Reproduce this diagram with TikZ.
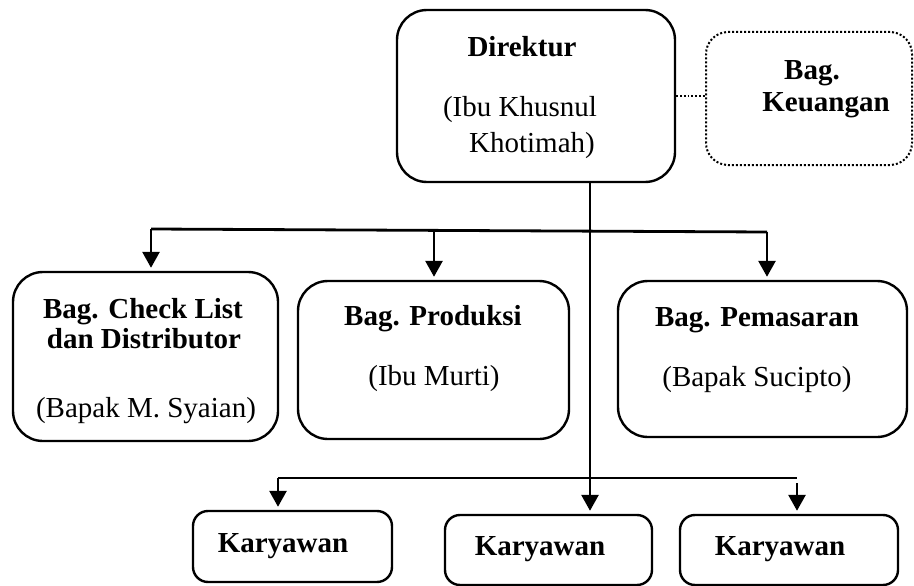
\documentclass[tikz,border=0pt]{standalone}
\usepackage{fontspec}
\setmainfont{Liberation Serif}
\usetikzlibrary{arrows.meta}
\begin{document}
\begin{tikzpicture}[x=1pt,y=-1pt,
  box/.style={draw,line width=2.4pt,rounded corners=30pt,inner sep=0pt},
  smallbox/.style={draw,line width=2.4pt,rounded corners=15pt,inner sep=0pt},
  dotbox/.style={draw,line width=2pt,dotted,rounded corners=22pt,inner sep=0pt},
  txt/.style={anchor=base,inner sep=0pt,font=\fontsize{29}{30}\selectfont},
  btxt/.style={txt,font=\fontsize{29}{30}\selectfont\bfseries},
  conn/.style={line width=2.8pt},
  arr/.style={line width=2.8pt,-{Triangle[width=17pt,length=16pt]},shorten >=3pt}]
\useasboundingbox (0,0) rectangle (914,586);
% boxes
\node[box,minimum width=278pt,minimum height=172pt] (dir) at (536,96) {};
\node[dotbox,minimum width=206pt,minimum height=133pt] (keu) at (809,98.5) {};
\node[box,minimum width=265pt,minimum height=169pt] (cl) at (145.5,356.5) {};
\node[box,minimum width=271pt,minimum height=158pt] (prod) at (433.5,360) {};
\node[box,minimum width=289pt,minimum height=156pt] (pem) at (762.5,359) {};
\node[smallbox,minimum width=199pt,minimum height=71pt] (k1) at (292.5,546.5) {};
\node[smallbox,minimum width=207pt,minimum height=70pt] (k2) at (548.5,550) {};
\node[smallbox,minimum width=218pt,minimum height=70pt] (k3) at (789,550) {};
% texts
\node[btxt] (t1) at (522,57) {Direktur};
\node[txt] (t2) at (520,117) {(Ibu Khusnul};
\node[txt] (t3) at (532,152) {Khotimah)};
\node[btxt] (t4) at (812,80) {Bag.};
\node[btxt] (t5) at (826,112) {Keuangan};
\node[btxt] (t6) at (143,318) {Bag. Check List};
\node[btxt] (t7) at (144,348) {dan Distributor};
\node[txt] (t8) at (146,417) {(Bapak M. Syaian)};
\node[btxt] (t9) at (433,325) {Bag. Produksi};
\node[txt] (t10) at (434,385) {(Ibu Murti)};
\node[btxt] (t11) at (757,326) {Bag. Pemasaran};
\node[txt] (t12) at (757,386) {(Bapak Sucipto)};
\node[btxt] (t13) at (283,552) {Karyawan};
\node[btxt] (t14) at (540,555) {Karyawan};
\node[btxt] (t15) at (780,555) {Karyawan};
% connectors
\draw[line width=1.8pt,dotted] (dir.east) -- (dir.east -| keu.west);
\coordinate (spine) at (590,182);
\coordinate (ua) at (151,229);
\coordinate (ub) at (434,230);
\coordinate (uc) at (767,232);
\coordinate (la) at (278,478);
\coordinate (lc) at (797,478);
\coordinate (lc2) at (797,483);
\draw[conn] (ua) -- (uc);
\draw[conn] (la) -- (lc);
\draw[arr] (spine |- dir.south) -- (spine |- k2.north);
\draw[arr] (ua) -- (ua |- cl.north);
\draw[arr] (ub) -- (ub |- prod.north);
\draw[arr] (uc) -- (uc |- pem.north);
\draw[arr] (la) -- (la |- k1.north);
\draw[arr] (lc2) -- (lc2 |- k3.north);
\end{tikzpicture}
\end{document}
